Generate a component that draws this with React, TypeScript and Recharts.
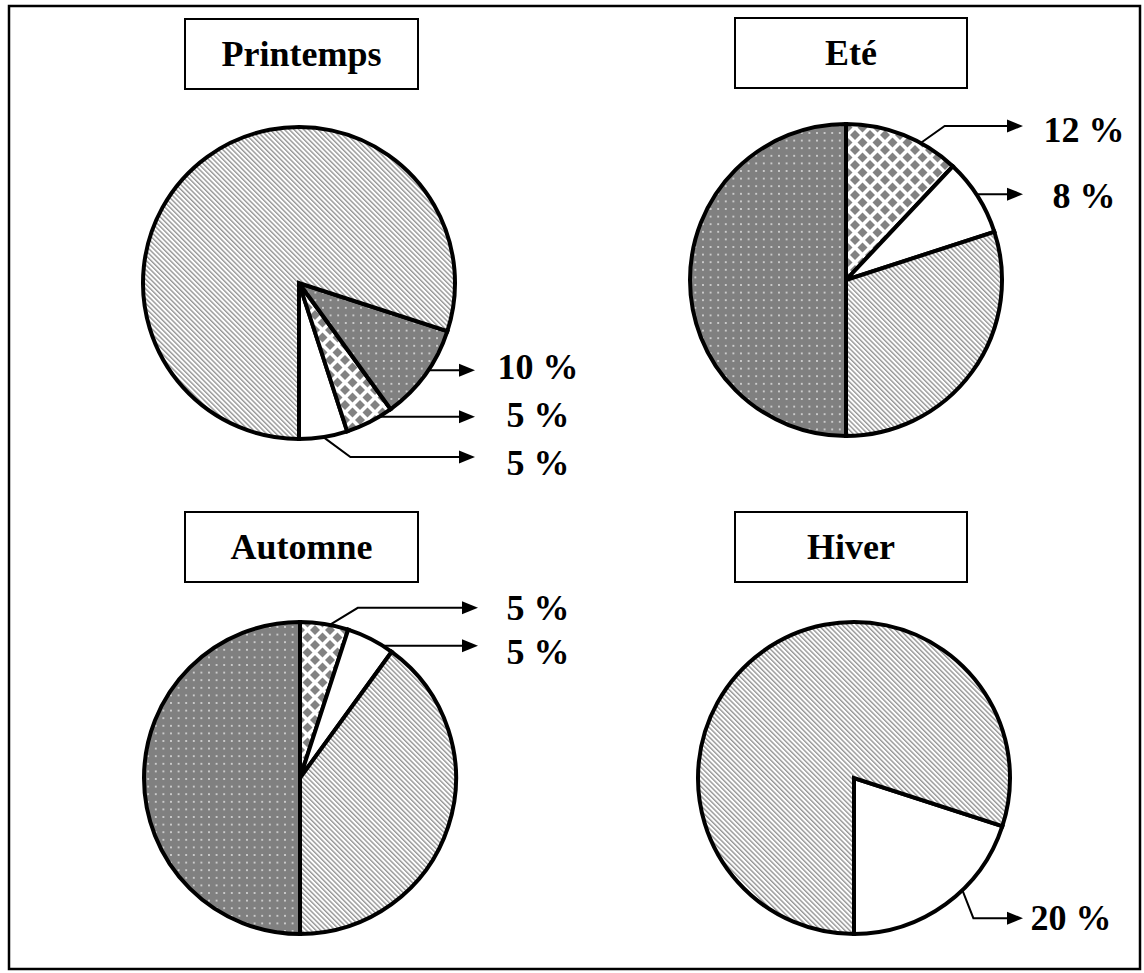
import React from 'react';
import { PieChart, Pie, Cell } from 'recharts';

const W = 1144;
const H = 973;

// ---- data ----
const seasonTitles = ['Printemps', 'Eté', 'Automne', 'Hiver'];

const printempsKinds = ['white', 'checker', 'dots', 'hatch'];
const printempsValues = [5, 5, 10, 80];
const printempsLabels = ['5 %', '5 %', '10 %', ''];

const eteKinds = ['checker', 'white', 'hatch', 'dots'];
const eteValues = [12, 8, 30, 50];
const eteLabels = ['12 %', '8 %', '', ''];

const automneKinds = ['checker', 'white', 'hatch', 'dots'];
const automneValues = [5, 5, 40, 50];
const automneLabels = ['5 %', '5 %', '', ''];

const hiverKinds = ['white', 'hatch'];
const hiverValues = [20, 80];
const hiverLabels = ['20 %', ''];

// ---- styles ----
const FONT = '"Liberation Serif", "Times New Roman", serif';
const fills: Record<string, string> = {
  hatch: 'url(#pHatch)',
  dots: 'url(#pDots)',
  checker: 'url(#pChecker)',
  white: '#ffffff',
};

type Leader = { shift: number; elbow: [number, number] | null; textDy: number } | null;

const pies = [
  {
    title: seasonTitles[0], kinds: printempsKinds, values: printempsValues, labels: printempsLabels,
    cx: 299, cy: 283, start: -90, end: 270, tipDx: 176, textDx: 239,
    box: { x: 185, y: 19, w: 233, h: 70 },
    leaders: [
      { shift: 0, elbow: [27, 20], textDy: 6 },
      { shift: 4, elbow: null, textDy: -2 },
      { shift: 2, elbow: null, textDy: -3 },
      null,
    ] as Leader[],
  },
  {
    title: seasonTitles[1], kinds: eteKinds, values: eteValues, labels: eteLabels,
    cx: 846, cy: 280, start: 90, end: -270, tipDx: 177, textDx: 238,
    box: { x: 735, y: 18, w: 232, h: 70 },
    leaders: [
      { shift: -7, elbow: [24, -17], textDy: 4 },
      { shift: 1, elbow: null, textDy: 2 },
      null,
      null,
    ] as Leader[],
  },
  {
    title: seasonTitles[2], kinds: automneKinds, values: automneValues, labels: automneLabels,
    cx: 300, cy: 778, start: 90, end: -270, tipDx: 178, textDx: 238,
    box: { x: 185, y: 512, w: 233, h: 70 },
    leaders: [
      { shift: -2, elbow: [28, -17], textDy: 0 },
      { shift: -5, elbow: null, textDy: 6 },
      null,
      null,
    ] as Leader[],
  },
  {
    title: seasonTitles[3], kinds: hiverKinds, values: hiverValues, labels: hiverLabels,
    cx: 854, cy: 778, start: -90, end: 270, tipDx: 169, textDx: 217,
    box: { x: 735, y: 512, w: 232, h: 70 },
    leaders: [
      { shift: 8, elbow: [11, 28], textDy: 0 },
      null,
    ] as Leader[],
  },
];

const RADIUS = 156;
const RAD = Math.PI / 180;

function makeLabel(leaders: Leader[], labels: string[], tipDx: number, textDx: number) {
  return (props: any) => {
    const { cx, cy, midAngle, outerRadius, index } = props;
    const spec = leaders[index];
    if (!spec || !labels[index]) return null;
    const a = (midAngle + spec.shift) * RAD;
    const sx = cx + outerRadius * Math.cos(-a);
    const sy = cy + outerRadius * Math.sin(-a);
    let pts = `${sx},${sy}`;
    let hy = sy;
    if (spec.elbow) {
      const ex = sx + spec.elbow[0];
      const ey = sy + spec.elbow[1];
      pts += ` ${ex},${ey}`;
      hy = ey;
    }
    const tip = cx + tipDx;
    pts += ` ${tip - 13},${hy}`;
    return (
      <g key={`lbl-${index}`}>
        <polyline points={pts} fill="none" stroke="#000" strokeWidth={2} />
        <polygon points={`${tip},${hy} ${tip - 16},${hy - 6.5} ${tip - 16},${hy + 6.5}`} fill="#000" />
        <text
          x={cx + textDx}
          y={hy + spec.textDy + 12}
          textAnchor="middle"
          fontFamily={FONT}
          fontWeight="bold"
          fontSize={36}
          fill="#000"
        >
          {labels[index]}
        </text>
      </g>
    );
  };
}

export default function App() {
  const P = 15;
  const h = 5;
  const diamond = (x: number, y: number) => `${x},${y - h} ${x + h},${y} ${x},${y + h} ${x - h},${y}`;
  return (
    <div style={{ position: 'absolute', left: 0, top: 0, width: W, height: H, background: '#fff' }}>
      <svg width={W} height={H} style={{ position: 'absolute', left: 0, top: 0 }}>
        <defs>
          <pattern id="pHatch" width={3.4} height={3.4} patternUnits="userSpaceOnUse" patternTransform="rotate(-45)">
            <rect width={3.4} height={3.4} fill="#fff" />
            <rect x={0} y={0} width={1.4} height={3.4} fill="#969696" />
          </pattern>
          <pattern id="pDots" width={7.6} height={7.6} patternUnits="userSpaceOnUse">
            <rect width={7.6} height={7.6} fill="#808080" />
            <circle cx={3.8} cy={3.8} r={0.85} fill="#f0f0f0" />
          </pattern>
          <pattern id="pChecker" width={P} height={P} patternUnits="userSpaceOnUse">
            <rect width={P} height={P} fill="#fff" />
            <polygon points={diamond(P / 2, P / 2)} fill="#828282" />
            <polygon points={diamond(0, 0)} fill="#828282" />
            <polygon points={diamond(P, 0)} fill="#828282" />
            <polygon points={diamond(0, P)} fill="#828282" />
            <polygon points={diamond(P, P)} fill="#828282" />
          </pattern>
        </defs>
        <rect x={9} y={6} width={1131} height={963} fill="none" stroke="#000" strokeWidth={2.5} />
        {pies.map((p) => (
          <g key={p.title}>
            <rect x={p.box.x} y={p.box.y} width={p.box.w} height={p.box.h} fill="#fff" stroke="#000" strokeWidth={2} />
            <text
              x={p.box.x + p.box.w / 2}
              y={p.box.y + p.box.h / 2 + 12}
              textAnchor="middle"
              fontFamily={FONT}
              fontWeight="bold"
              fontSize={36}
              fill="#000"
            >
              {p.title}
            </text>
          </g>
        ))}
      </svg>
      <div style={{ position: 'absolute', left: 0, top: 0 }}>
        <PieChart width={W} height={H} margin={{ top: 0, right: 0, bottom: 0, left: 0 }}>
          {pies.map((p) => (
            <Pie
              key={p.title}
              data={p.values.map((v, i) => ({ name: p.kinds[i], value: v }))}
              dataKey="value"
              cx={p.cx}
              cy={p.cy}
              outerRadius={RADIUS}
              innerRadius={0}
              startAngle={p.start}
              endAngle={p.end}
              stroke="#000"
              strokeWidth={4}
              isAnimationActive={false}
              labelLine={false}
              label={makeLabel(p.leaders, p.labels, p.tipDx, p.textDx)}
            >
              {p.kinds.map((k, i) => (
                <Cell key={i} fill={fills[k]} stroke="#000" strokeWidth={4} />
              ))}
            </Pie>
          ))}
        </PieChart>
      </div>
    </div>
  );
}
